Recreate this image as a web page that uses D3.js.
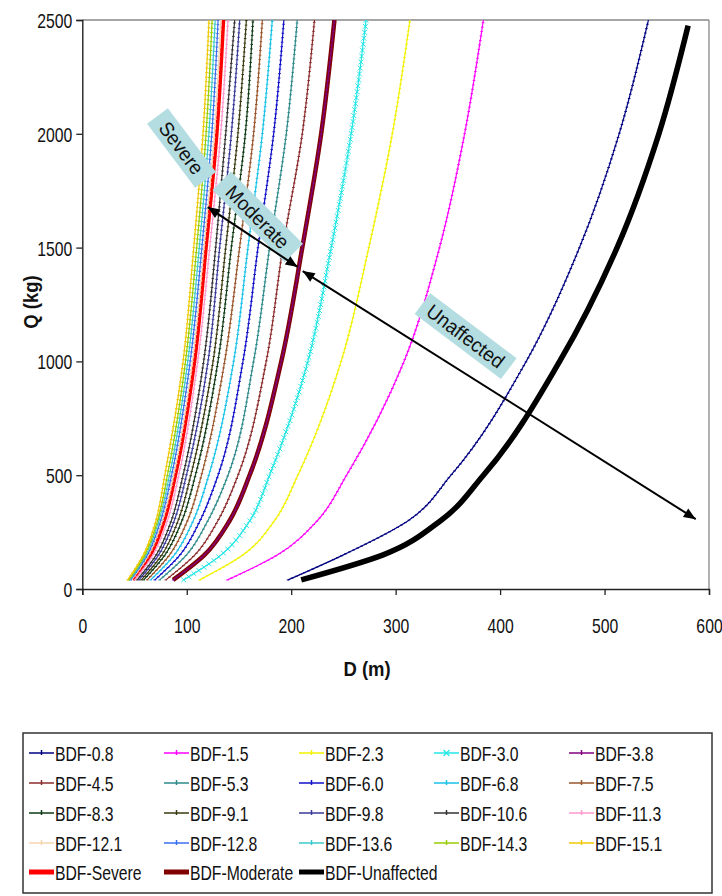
<!DOCTYPE html>
<html>
<head>
<meta charset="utf-8">
<script src="https://cdn.jsdelivr.net/npm/d3@7"></script>
<style>
  body { margin: 0; background: #fff; }
  svg { display: block; }
  text { font-family: "Liberation Sans", Arial, sans-serif; fill: #111; }
</style>
</head>
<body>
<svg id="chart" width="722" height="896"></svg>
<script>
// Charge mass levels (kg) at which each curve's distance is given
const massKg = [40, 150, 300, 500, 1000, 1500, 2000, 2500];
const massKgUnaffected = [40, 150, 300, 500, 1000, 1500, 2000, 2475];

// Distance D (m) for each series at the mass levels above
const bdf0_8   = [197, 250, 312, 353, 425, 476, 514, 542];
const bdf1_5   = [139, 187, 225, 253, 308, 342, 366, 384];
const bdf2_3   = [112.4, 154, 184, 206.4, 247.8, 274.3, 296.8, 313.7];
const bdf3_0   = [97, 133, 160.4, 179.3, 216, 238.3, 257.4, 271.7];
const bdf3_8   = [87, 117, 141, 160.2, 190.5, 210.6, 228.7, 241.4];
const bdf4_5   = [80, 107.8, 129.8, 149.1, 176.1, 192, 210.6, 222.3];
const bdf5_3   = [74.1, 99.8, 120.2, 139.5, 164, 179.3, 195.3, 205.8];
const bdf6_0   = [69.5, 93.6, 112.7, 130, 153.8, 168.2, 183.2, 193];
const bdf6_8   = [65.5, 88.2, 106.2, 121.1, 144.9, 158.6, 172.4, 181.9];
const bdf7_5   = [62.1, 83.6, 100.7, 114.1, 136.3, 150.6, 164, 172.4];
const bdf8_3   = [58.8, 79.2, 95.4, 108.3, 129.9, 142.7, 156.1, 163.4];
const bdf9_1   = [56.6, 76.2, 91.7, 103.9, 125.2, 137.3, 149, 157.1];
const bdf9_8   = [54.3, 73.1, 88, 99.7, 120.4, 131.5, 142.7, 150.7];
const bdf10_6  = [52.5, 70.8, 85.2, 96.5, 116.2, 127.7, 137.3, 145.9];
const bdf11_3  = [50.3, 67.8, 81.5, 92.4, 110.5, 122, 132.5, 139.5];
const bdf12_1  = [47.3, 63.7, 76.7, 87.5, 105.5, 116.5, 126.5, 132.5];
const bdf12_8  = [46.3, 62.3, 75, 85.5, 103.3, 114.5, 124, 130];
const bdf13_6  = [45.3, 61, 73.3, 83.5, 101, 112, 121.2, 127.2];
const bdf14_3  = [44.5, 59.8, 72, 81.5, 98.8, 109.5, 118.5, 124.3];
const bdf15_1  = [43.5, 58.5, 70.5, 79, 96.5, 106.7, 115.6, 121.3];
const bdfSevere     = [48.5, 65.3, 78.5, 89.2, 107.5, 118.5, 128.8, 135.2];
const bdfModerate   = [87, 117, 141, 160.2, 190.5, 210.6, 228.7, 241.4];
const bdfUnaffected = [209.6, 288, 343, 384, 457, 512, 552, 580];

const seriesNames = [
  "BDF-0.8", "BDF-1.5", "BDF-2.3", "BDF-3.0", "BDF-3.8",
  "BDF-4.5", "BDF-5.3", "BDF-6.0", "BDF-6.8", "BDF-7.5",
  "BDF-8.3", "BDF-9.1", "BDF-9.8", "BDF-10.6", "BDF-11.3",
  "BDF-12.1", "BDF-12.8", "BDF-13.6", "BDF-14.3", "BDF-15.1",
  "BDF-Severe", "BDF-Moderate", "BDF-Unaffected"
];
const seriesDistances = [
  bdf0_8, bdf1_5, bdf2_3, bdf3_0, bdf3_8,
  bdf4_5, bdf5_3, bdf6_0, bdf6_8, bdf7_5,
  bdf8_3, bdf9_1, bdf9_8, bdf10_6, bdf11_3,
  bdf12_1, bdf12_8, bdf13_6, bdf14_3, bdf15_1,
  bdfSevere, bdfModerate, bdfUnaffected
];
const seriesMasses = seriesNames.map(n => n === "BDF-Unaffected" ? massKgUnaffected : massKg);

const xTicks = [0, 100, 200, 300, 400, 500, 600];
const yTicks = [0, 500, 1000, 1500, 2000, 2500];

// Styling
const seriesColors = [
  "#000080", "#ff00ff", "#f2f200", "#22e6e6", "#800080",
  "#8b2b2b", "#2e8a8a", "#1010c8", "#19c2e8", "#99552b",
  "#0f3a14", "#3a3a10", "#3a3a99", "#333333", "#ff99cc",
  "#f5d4b0", "#3a6ef0", "#3cc8c8", "#9acd00", "#f0c800",
  "#ff0000", "#800000", "#000000"
];
const seriesWidths = seriesNames.map(n =>
  n === "BDF-Severe" ? 3.5 : n === "BDF-Moderate" ? 4.5 : n === "BDF-Unaffected" ? 5.5 : 1.2);
const seriesMarker = seriesNames.map(n =>
  n === "BDF-3.0" ? "x" : (n === "BDF-Severe" || n === "BDF-Moderate" || n === "BDF-Unaffected") ? "none" : "tick");

const svg = d3.select("#chart");
const x = d3.scaleLinear().domain([0, 600]).range([82.3, 709]);
const y = d3.scaleLinear().domain([0, 2500]).range([589, 20]);
const NARROW = 0.75;

// plot frame
svg.append("line").attr("x1", x(0)).attr("x2", x(600)).attr("y1", y(2500)).attr("y2", y(2500))
  .attr("stroke", "#888").attr("stroke-width", 1.3);
svg.append("line").attr("x1", x(600)).attr("x2", x(600)).attr("y1", y(2500)).attr("y2", y(0))
  .attr("stroke", "#888").attr("stroke-width", 1.3);

svg.append("defs").append("clipPath").attr("id", "plotClip")
  .append("rect").attr("x", x(0)).attr("y", y(2500)).attr("width", x(600) - x(0)).attr("height", y(0) - y(2500));

const line = d3.line().x(d => x(d.d)).y(d => y(d.q)).curve(d3.curveMonotoneY);
const table = seriesNames.map((name, i) => ({
  name, color: seriesColors[i], width: seriesWidths[i], marker: seriesMarker[i],
  points: seriesDistances[i].map((d, k) => ({ d, q: seriesMasses[i][k] }))
}));

const plot = svg.append("g").attr("clip-path", "url(#plotClip)");

// heavy damage-class curves underneath, thin BDF curves over them
const drawOrder = [20, 21, 22].concat(d3.range(0, 20));
drawOrder.forEach(i => {
  const s = table[i];
  const p = plot.append("path").datum(s.points)
    .attr("d", line).attr("fill", "none")
    .attr("stroke", s.color).attr("stroke-width", s.width)
    .attr("stroke-linejoin", "round");
  if (s.marker === "none") return;
  const node = p.node();
  const len = node.getTotalLength();
  const step = s.marker === "x" ? 6 : 4.5;
  const mg = plot.append("g").attr("stroke", s.color).attr("stroke-width", 1);
  for (let L = 0; L <= len; L += step) {
    const pt = node.getPointAtLength(L);
    if (s.marker === "x") {
      mg.append("path").attr("d", `M${pt.x - 2.4},${pt.y - 2.4}L${pt.x + 2.4},${pt.y + 2.4}M${pt.x - 2.4},${pt.y + 2.4}L${pt.x + 2.4},${pt.y - 2.4}`);
    } else {
      mg.append("path").attr("d", `M${pt.x - 1.3},${pt.y}L${pt.x + 1.3},${pt.y}`);
    }
  }
});

// axes
const yAxis = d3.axisLeft(y).tickValues(yTicks).tickSize(6).tickFormat(d3.format("d"));
const gy = svg.append("g").attr("transform", `translate(${x(0)},0)`).call(yAxis);
gy.select(".domain").attr("stroke", "#222").attr("stroke-width", 1.4);
gy.selectAll(".tick line").attr("stroke", "#222").attr("stroke-width", 1.3);
gy.selectAll(".tick text")
  .attr("font-size", 21).attr("font-family", "Liberation Sans, Arial, sans-serif").attr("fill", "#111")
  .attr("x", -10 / NARROW).attr("dy", "0.36em")
  .attr("transform", `scale(${NARROW},1)`);

const xAxis = d3.axisBottom(x).tickValues(xTicks).tickSize(6).tickFormat(d3.format("d"));
const gx = svg.append("g").attr("transform", `translate(0,${y(0)})`).call(xAxis);
gx.select(".domain").attr("stroke", "#222").attr("stroke-width", 1.4);
gx.selectAll(".tick line").attr("stroke", "#222").attr("stroke-width", 1.3);
gx.selectAll(".tick text")
  .attr("font-size", 21).attr("font-family", "Liberation Sans, Arial, sans-serif").attr("fill", "#111")
  .attr("y", 36).attr("dy", "0.36em")
  .attr("transform", `scale(${NARROW},1)`);

// axis titles
svg.append("text").attr("transform", `translate(367,668) scale(0.88,1)`)
  .attr("text-anchor", "middle").attr("dy", "0.36em")
  .attr("font-size", 21).attr("font-weight", "bold").text("D (m)");
svg.append("text").attr("transform", `translate(30,302) rotate(-90) scale(0.88,1)`)
  .attr("text-anchor", "middle").attr("dy", "0.36em")
  .attr("font-size", 21).attr("font-weight", "bold").text("Q (kg)");

// damage zone labels
const zoneLabels = [
  { text: "Severe",     d: 95,  q: 1938, angle: 53, w: 80,  h: 26 },
  { text: "Moderate",   d: 168, q: 1635, angle: 45, w: 102, h: 26 },
  { text: "Unaffected", d: 367, q: 1111, angle: 37, w: 108, h: 26 }
];
zoneLabels.forEach(z => {
  const g = svg.append("g").attr("transform", `translate(${x(z.d)},${y(z.q)}) rotate(${z.angle})`);
  g.append("rect").attr("x", -z.w / 2).attr("y", -z.h / 2).attr("width", z.w).attr("height", z.h)
    .attr("fill", "#b4dde2");
  g.append("text").attr("transform", `scale(0.95,1)`).attr("text-anchor", "middle").attr("dy", "0.36em")
    .attr("font-size", 20).attr("fill", "#111").text(z.text);
});

// zone arrows (double headed)
const zoneArrows = [
  { d1: 120.1, q1: 1678, d2: 206.1, q2: 1415 },
  { d1: 211.0, q1: 1397, d2: 587.3, q2: 307 }
];
function arrowHead(g, tipX, tipY, fromX, fromY) {
  const a = Math.atan2(tipY - fromY, tipX - fromX);
  const L = 12, Wd = 5;
  const bx = tipX - L * Math.cos(a), by = tipY - L * Math.sin(a);
  const px = -Math.sin(a) * Wd, py = Math.cos(a) * Wd;
  g.append("path").attr("d", `M${tipX},${tipY}L${bx + px},${by + py}L${bx - px},${by - py}Z`).attr("fill", "#000");
}
zoneArrows.forEach(a => {
  const g = svg.append("g");
  const X1 = x(a.d1), Y1 = y(a.q1), X2 = x(a.d2), Y2 = y(a.q2);
  g.append("line").attr("x1", X1).attr("y1", Y1).attr("x2", X2).attr("y2", Y2)
    .attr("stroke", "#000").attr("stroke-width", 2);
  arrowHead(g, X1, Y1, X2, Y2);
  arrowHead(g, X2, Y2, X1, Y1);
});

// legend
const legend = svg.append("g");
legend.append("rect").attr("x", 23).attr("y", 733).attr("width", 689).attr("height", 160)
  .attr("fill", "#fff").attr("stroke", "#333").attr("stroke-width", 1.5);
const colX = [29, 164, 299, 434, 569];
const rowY = [753, 783, 813, 843, 872];
table.forEach((s, i) => {
  const cx = colX[i % 5], cy = rowY[Math.floor(i / 5)];
  const g = legend.append("g");
  g.append("line").attr("x1", cx).attr("x2", cx + 25).attr("y1", cy).attr("y2", cy)
    .attr("stroke", s.color).attr("stroke-width", s.marker === "none" ? 5 : 1.5);
  if (s.marker === "x") {
    g.append("path").attr("d", `M${cx + 9.5},${cy - 3}L${cx + 15.5},${cy + 3}M${cx + 9.5},${cy + 3}L${cx + 15.5},${cy - 3}`)
      .attr("stroke", s.color).attr("stroke-width", 1.2);
  } else if (s.marker === "tick") {
    g.append("path").attr("d", `M${cx + 12.5},${cy - 3}L${cx + 12.5},${cy + 2}`)
      .attr("stroke", s.color).attr("stroke-width", 1.5);
  }
  g.append("text").attr("transform", `translate(${cx + 26},${cy}) scale(${NARROW},1)`)
    .attr("dy", "0.36em").attr("font-size", 21).text(s.name);
});
</script>
</body>
</html>
